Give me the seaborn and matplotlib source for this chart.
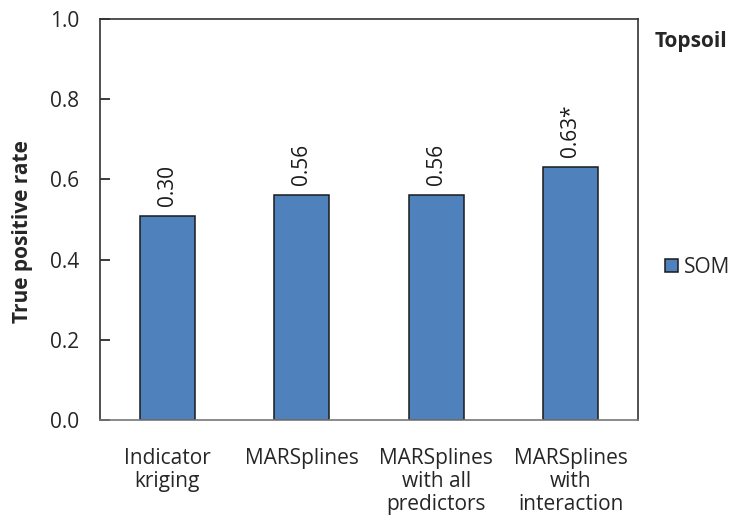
import numpy as np
import pandas as pd
import seaborn as sns
import matplotlib.pyplot as plt
from matplotlib.ticker import FixedLocator, FormatStrFormatter

methods = ['Indicator\nkriging', 'MARSplines', 'MARSplines\nwith all\npredictors',
           'MARSplines\nwith\ninteraction']
rates = [0.51, 0.56, 0.56, 0.63]
bar_labels = ['0.30', '0.56', '0.56', '0.63*']
series = 'SOM'

df = pd.DataFrame({'method': methods, 'rate': rates, 'series': series})

sns.set_style('white')
plt.rcParams['font.family'] = ['Open Sans', 'DejaVu Sans']

fig = plt.figure(figsize=(7.35, 5.24), dpi=100)
ax = fig.add_axes([0.136, 0.198, 0.732, 0.766])

sns.barplot(data=df, x='method', y='rate', hue='series', palette=['#4F81BD'],
            saturation=1, width=0.41, dodge=False, edgecolor='#1a1a1a',
            linewidth=1.1, ax=ax)

for patch, lab in zip(ax.patches, bar_labels):
    ax.text(patch.get_x() + patch.get_width() / 2, patch.get_height() + 0.025, lab,
            rotation=90, ha='center', va='bottom', fontsize=15, color='#1a1a1a')

ax.set_xlim(-0.5, 3.5)
ax.set_ylim(0, 1.0)
ax.set_yticks(np.arange(0, 1.01, 0.2))
ax.yaxis.set_major_formatter(FormatStrFormatter('%.1f'))
ax.xaxis.set_minor_locator(FixedLocator([0.5, 1.5, 2.5]))
ax.tick_params(axis='x', which='major', length=0, labelsize=15, pad=20)
ax.tick_params(axis='x', which='minor', direction='in', length=7, width=1.2, color='#1a1a1a')
ax.tick_params(axis='y', direction='in', length=7, width=1.2, labelsize=15, pad=15,
               color='#1a1a1a', left=True)
for lbl in ax.get_xticklabels():
    lbl.set_va('top')
    lbl.set_linespacing(1.12)

for sp in ax.spines.values():
    sp.set_visible(True)
    sp.set_color('#333333')
    sp.set_linewidth(1.2)
ax.spines['bottom'].set_color('#777777')

ax.set_xlabel('')
ax.set_ylabel('True positive rate', fontsize=15, fontweight='bold', labelpad=12)
ax.yaxis.label.set_y(0.47)

fig.text(0.891, 0.92, 'Topsoil', fontsize=15, fontweight='bold', ha='left', va='center')
ax.legend(loc='center left', bbox_to_anchor=(1.035, 0.38), frameon=False, fontsize=15,
          handlelength=0.6, handleheight=0.6, handletextpad=0.3, borderaxespad=0)

fig.savefig('out.png', dpi=100)
